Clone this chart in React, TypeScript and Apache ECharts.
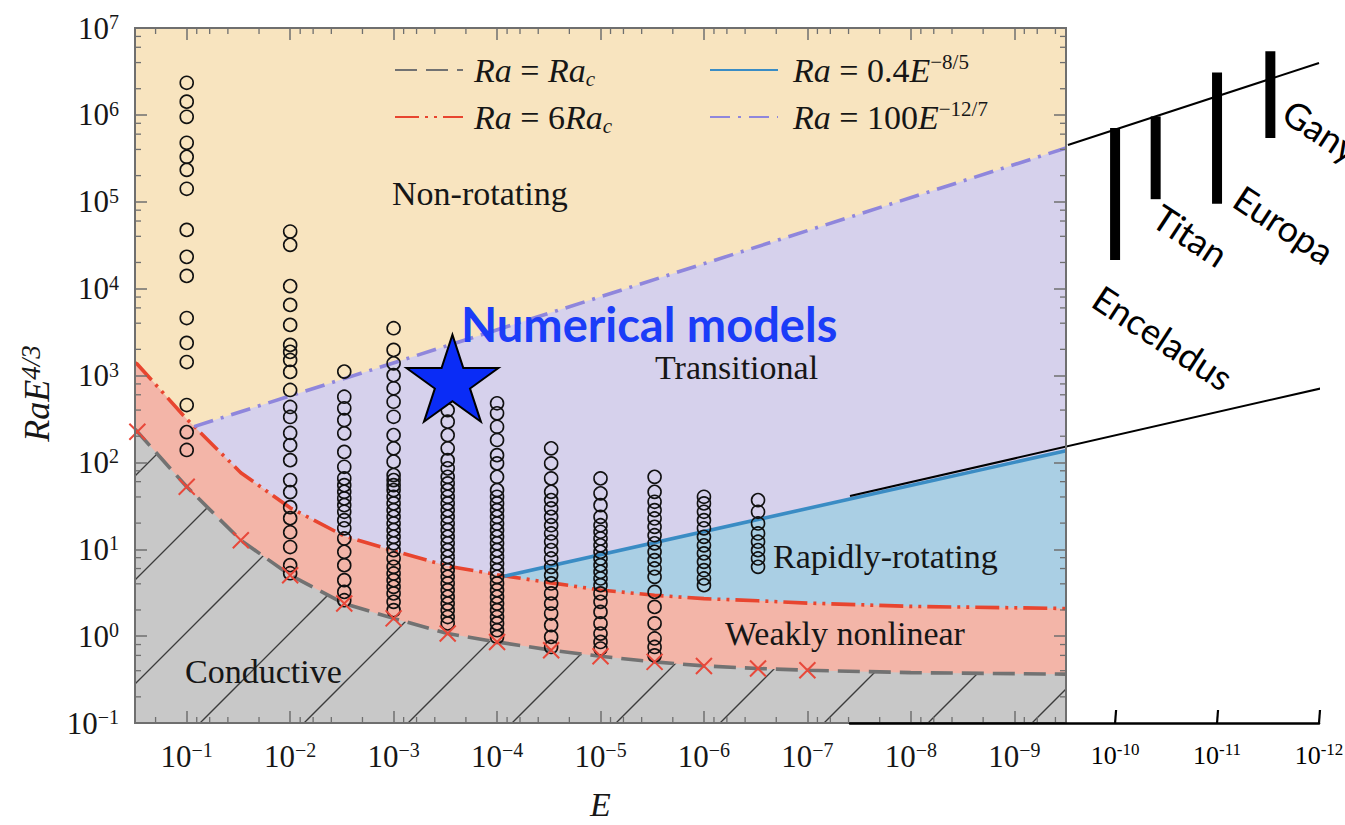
import React, { useEffect, useRef } from 'react';
import * as echarts from 'echarts';

const SERIF = '"Liberation Serif", "Times New Roman", "DejaVu Serif", serif';
const SANS = 'Lato, "Open Sans", "DejaVu Sans", sans-serif';
const INK = '#161616';
const FRAME = '#6f6f6f';

// ---- axis extents (E decreases to the right) ----
const E_LEFT = 0.31623; // 10^-0.5
const E_RIGHT = 3.1623e-10; // 10^-9.5
const EXT_LEFT = 3.98e-8; // 10^-7.4
const EXT_RIGHT = 1e-12;
const Y_MIN = 0.1;
const Y_MAX = 1e7;

// ---- simulations (open circles): Ra E^{4/3} per Ekman number ----
const simE = [1e-1, 1e-2, 3e-3, 1e-3, 3e-4, 1e-4, 3e-5, 1e-5, 3e-6, 1e-6, 3e-7];
const simAtE1 = [2.34e6, 1.42e6, 9.5e5, 4.77e5, 3.29e5, 2.33e5, 1.41e5, 4.74e4, 2.32e4, 1.4e4, 4590, 2370, 1430, 457, 223, 139];
const simAtE2 = [4.54e4, 3.19e4, 1.07e4, 6490, 3820, 2250, 1870, 1510, 1100, 681, 434, 333, 218, 158, 106, 62.5, 45.5, 30.5, 22.8, 15.7, 10.6, 6.56, 5.3];
const simAt3E3 = [1110, 570, 419, 307, 216, 132, 89, 65.4, 54.7, 45.8, 38.5, 32.2, 27, 21.6, 17.4, 13.3, 9.33, 6.56, 4.41, 3.23, 2.59];
const simAtE3 = [3500, 1970, 1380, 1010, 713, 499, 335, 206, 145, 102, 71.4, 62.5, 54.7, 48, 40.2, 33.7, 28.2, 23.6, 19.8, 16.6, 13.9, 11.7, 9.77, 7.83, 6.27, 5.26, 4.41, 3.69, 3.1, 2.48, 1.99];
const simAt3E4 = [400, 294, 206, 145, 106, 85.3, 68.2, 57.3, 48, 40.2, 33.7, 28.2, 23.6, 19.8, 16.6, 13.9, 11.7, 9.77, 8.17, 6.86, 5.74, 4.81, 4.04, 3.38, 2.83, 2.37, 1.99, 1.66, 1.4];
const simAtE4 = [479, 367, 257, 181, 121, 97.3, 68.2, 48, 40.2, 33.7, 28.2, 23.6, 19.8, 16.6, 13.9, 11.7, 9.77, 8.17, 6.86, 5.74, 4.81, 4.04, 3.38, 2.83, 2.37, 1.99, 1.66, 1.4, 1.17, 0.98];
const simAt3E5 = [145, 97.3, 65.4, 45.8, 36.8, 29.5, 23.6, 18.9, 15.2, 12.2, 9.77, 7.83, 6.27, 5.03, 4.04, 3.1, 2.37, 1.82, 1.34, 0.98, 0.75];
const simAtE5 = [65.4, 44, 32.2, 23.6, 18.9, 15.9, 13.3, 11.1, 9.33, 7.83, 6.56, 5.49, 4.61, 3.86, 3.1, 2.48, 1.9, 1.4, 1.07, 0.857, 0.72];
const simAt3E6 = [68.2, 45.8, 35.2, 28.2, 22.6, 18.1, 14.5, 11.7, 9.33, 7.49, 6.01, 4.81, 3.23, 2.17, 1.4, 0.94, 0.75, 0.6];
const simAtE6 = [40.2, 33.7, 27, 21.6, 17.4, 13.9, 11.1, 8.95, 7.16, 5.74, 4.61, 3.86];
const simAt3E7 = [36.8, 27, 19.8, 15.2, 12.2, 9.77, 7.83, 6.27];
const simColumns = [simAtE1, simAtE2, simAt3E3, simAtE3, simAt3E4, simAtE4, simAt3E5, simAtE5, simAt3E6, simAtE6, simAt3E7];

// ---- onset of convection (red crosses) ----
const onsetE = [0.3, 0.1, 0.03, 0.01, 3e-3, 1e-3, 3e-4, 1e-4, 3e-5, 1e-5, 3e-6, 1e-6, 3e-7, 1e-7];
const onsetRaE43 = [225, 52.4, 12.7, 5.03, 2.37, 1.6, 1.07, 0.857, 0.689, 0.586, 0.505, 0.454, 0.424, 0.405];

// ---- regime boundaries ----
const curveE = [E_LEFT, 0.3, 0.1, 0.03, 0.01, 3e-3, 1e-3, 3e-4, 1e-4, 3e-5, 1e-5, 3e-6, 1e-6, 3e-7, 1e-7, 1e-8, E_RIGHT];
const rcRaE43 = [240, 225, 52.4, 12.7, 5.03, 2.37, 1.6, 1.07, 0.857, 0.689, 0.586, 0.505, 0.454, 0.424, 0.405, 0.38, 0.365];
const sixRcRaE43 = [1400, 1350, 315, 76, 30, 14.2, 9.6, 6.4, 5.1, 4.1, 3.4, 2.95, 2.7, 2.55, 2.4, 2.2, 2.08];
const rrE = [8.5e-5, E_RIGHT];
const rrRaE43 = [4.9, 136];
const nrE = [0.085, E_RIGHT];
const nrRaE43 = [258, 4.15e5];

// ---- extension to planetary values ----
const extUpperE = [2.9e-10, 1e-12];
const extUpperRaE43 = [4.5e5, 3.95e6];
const extLowerE = [3.98e-8, 5.6e-13];
const extLowerRaE43 = [41, 820];
const moons = ['Enceladus', 'Titan', 'Europa', 'Ganymede'];
const moonE = [1e-10, 4e-11, 1e-11, 3e-12];
const moonLow = [2.14e4, 1.07e5, 9.5e4, 5.4e5];
const moonHigh = [7.05e5, 9.6e5, 3.08e6, 5.4e6];
const extTickE = [1e-10, 1e-11, 1e-12];

// ---- numerical models marker ----
const starE = 2.7e-4;
const starRaE43 = 930;

const minorMult = [2, 4, 6, 8];

const zip = (xs: number[], ys: number[]) => xs.map((x, i) => [x, ys[i]]);

function powLabel(v: number) {
  const l = Math.log10(v);
  const n = Math.round(l);
  if (Math.abs(l - n) > 0.02) return '';
  return `{b|10}{s|${n < 0 ? '\u2212' + -n : n}}`;
}
function extLabel(v: number) {
  const l = Math.log10(v);
  const n = Math.round(l);
  if (Math.abs(l - n) > 0.02 || n > -10) return '';
  return `{b|10}{s|-${-n}}`;
}

const tickRich = {
  b: { fontFamily: SERIF, fontSize: 31, color: INK, lineHeight: 32 },
  s: { fontFamily: SERIF, fontSize: 20, color: INK, lineHeight: 14, verticalAlign: 'top' },
};
const extRich = {
  b: { fontFamily: SERIF, fontSize: 26, color: '#000', lineHeight: 28 },
  s: { fontFamily: SERIF, fontSize: 17, color: '#000', lineHeight: 12, verticalAlign: 'top' },
};
const legendRich = {
  i: { fontFamily: SERIF, fontStyle: 'italic', fontSize: 34, color: INK, lineHeight: 38 },
  r: { fontFamily: SERIF, fontSize: 34, color: INK, lineHeight: 38 },
  sub: { fontFamily: SERIF, fontStyle: 'italic', fontSize: 21, color: INK, lineHeight: 14, verticalAlign: 'bottom' },
  sup: { fontFamily: SERIF, fontSize: 21, color: INK, lineHeight: 16, verticalAlign: 'top' },
};
const legendText: Record<string, string> = {
  'Ra=Rac': '{i|Ra}{r| = }{i|Ra}{sub|c}',
  'Ra=6Rac': '{i|Ra}{r| = 6}{i|Ra}{sub|c}',
  'Ra=0.4E^-8/5': '{i|Ra}{r| = 0.4}{i|E}{sup|\u22128/5}',
  'Ra=100E^-12/7': '{i|Ra}{r| = 100}{i|E}{sup|\u221212/7}',
};
const legendLayout = [
  { name: 'Ra=Rac', left: 394, top: 51, pad: 6 },
  { name: 'Ra=6Rac', left: 394, top: 98, pad: 6 },
  { name: 'Ra=0.4E^-8/5', left: 709, top: 51, pad: 10 },
  { name: 'Ra=100E^-12/7', left: 709, top: 98, pad: 10 },
];

const regionLabels = [
  { text: 'Non-rotating', x: 392, y: 193 },
  { text: 'Transitional', x: 655, y: 367 },
  { text: 'Rapidly-rotating', x: 773, y: 556 },
  { text: 'Weakly nonlinear', x: 725, y: 633 },
  { text: 'Conductive', x: 185, y: 671 },
];
const moonLabelPos = [
  { x: 1097, y: 294 },
  { x: 1157, y: 213 },
  { x: 1238, y: 194 },
  { x: 1287, y: 108 },
];

function makeHatch() {
  const s = 104;
  const c = document.createElement('canvas');
  c.width = s;
  c.height = s;
  const ctx = c.getContext('2d')!;
  ctx.strokeStyle = '#3c3c3c';
  ctx.lineWidth = 1.3;
  for (const off of [91, 91 + s]) {
    ctx.beginPath();
    ctx.moveTo(-6, off + 6);
    ctx.lineTo(s + 6, off - s - 6);
    ctx.stroke();
  }
  return c;
}

function buildOption() {
  const minorData: number[][] = [];
  for (let n = -10; n <= -1; n++) {
    for (const m of minorMult) {
      const v = m * Math.pow(10, n);
      if (v > E_RIGHT && v < E_LEFT) minorData.push([v, 1, 0]);
    }
  }
  for (let n = -1; n <= 6; n++) {
    for (const m of minorMult) {
      const v = m * Math.pow(10, n);
      if (v < Y_MAX) minorData.push([0.01, v, 1]);
    }
  }
  const circles: number[][] = [];
  simColumns.forEach((col, i) => col.forEach((v) => circles.push([simE[i], v])));

  const areaBase = (name: string, data: number[][], color: any, z: number) => ({
    name,
    type: 'line',
    xAxisIndex: 0,
    yAxisIndex: 0,
    data,
    symbol: 'none',
    showSymbol: false,
    silent: true,
    z,
    lineStyle: { width: 0 },
    areaStyle: { color, origin: 'start', opacity: 1 },
  });
  const lineBase = (name: string, data: number[][], color: string, type: any) => ({
    name,
    type: 'line',
    xAxisIndex: 0,
    yAxisIndex: 0,
    data,
    symbol: 'none',
    showSymbol: false,
    silent: true,
    z: 4,
    lineStyle: { color, width: 3.6, type },
    itemStyle: { color },
  });

  const axisLineStyle = { show: true, onZero: false, lineStyle: { color: FRAME, width: 2 } };
  const majorTick = { show: true, inside: true, length: 12, lineStyle: { color: FRAME, width: 1.5 } };

  return {
    animation: false,
    backgroundColor: '#ffffff',
    grid: [
      { left: 135, top: 28, width: 931, height: 695, show: true, backgroundColor: '#F8E4BF', borderColor: FRAME, borderWidth: 2, outerBoundsMode: 'none' },
      { left: 850, top: 28, width: 469, height: 695, show: false, outerBoundsMode: 'none' },
    ],
    legend: legendLayout.map((l) => ({
      data: [l.name],
      left: l.left,
      top: l.top,
      orient: 'vertical',
      padding: 0,
      itemWidth: 68,
      itemHeight: 14,
      selectedMode: false,
      itemStyle: { opacity: 0 },
      formatter: (n: string) => legendText[n],
      textStyle: { fontFamily: SERIF, fontSize: 34, color: INK, lineHeight: 38, padding: [0, 0, 0, l.pad], rich: legendRich },
    })),
    xAxis: [
      {
        type: 'log', gridIndex: 0, inverse: true, min: E_RIGHT, max: E_LEFT, position: 'bottom', z: 10,
        axisLine: axisLineStyle, axisTick: majorTick, splitLine: { show: false },
        axisLabel: { formatter: powLabel, margin: 17, fontFamily: SERIF, fontSize: 31, color: INK, rich: tickRich },
        name: '{i|E}', nameLocation: 'middle', nameGap: 67,
        nameTextStyle: { fontFamily: SERIF, rich: { i: { fontFamily: SERIF, fontStyle: 'italic', fontSize: 34, color: INK, lineHeight: 28 } } },
      },
      {
        type: 'log', gridIndex: 0, inverse: true, min: E_RIGHT, max: E_LEFT, position: 'top', z: 10,
        axisLine: axisLineStyle, axisTick: majorTick, splitLine: { show: false }, axisLabel: { show: false },
      },
      {
        type: 'log', gridIndex: 1, inverse: true, min: EXT_RIGHT, max: EXT_LEFT, position: 'bottom', z: 11,
        axisLine: { show: true, onZero: false, lineStyle: { color: '#000', width: 2.5 } },
        axisTick: { show: false }, splitLine: { show: false },
        axisLabel: { formatter: extLabel, margin: 18, fontFamily: SERIF, fontSize: 26, color: '#000', rich: extRich },
      },
    ],
    yAxis: [
      {
        type: 'log', gridIndex: 0, min: Y_MIN, max: Y_MAX, position: 'left', z: 10,
        axisLine: axisLineStyle, axisTick: majorTick, splitLine: { show: false },
        axisLabel: { formatter: powLabel, margin: 16, fontFamily: SERIF, fontSize: 31, color: INK, rich: tickRich },
        name: '{i|RaE}{s|4/3}', nameLocation: 'middle', nameRotate: 90, nameGap: 78,
        nameTextStyle: {
          fontFamily: SERIF,
          padding: [0, 36, 0, 0],
          rich: {
            i: { fontFamily: SERIF, fontStyle: 'italic', fontSize: 36, color: INK, lineHeight: 40 },
            s: { fontFamily: SERIF, fontStyle: 'italic', fontSize: 27, color: INK, lineHeight: 18, verticalAlign: 'top' },
          },
        },
      },
      {
        type: 'log', gridIndex: 0, min: Y_MIN, max: Y_MAX, position: 'right', z: 10,
        axisLine: axisLineStyle, axisTick: majorTick, splitLine: { show: false }, axisLabel: { show: false },
      },
      { type: 'log', gridIndex: 1, min: Y_MIN, max: Y_MAX, show: false },
    ],
    series: [
      areaBase('nonRotatingEdge', zip(nrE, nrRaE43), '#D6D1EC', 1),
      areaBase('rapidEdge', zip(rrE, rrRaE43), '#AACFE4', 1),
      areaBase('weakEdge', zip(curveE, sixRcRaE43), '#F3B5A8', 1),
      areaBase('conductiveFill', zip(curveE, rcRaE43), '#C8C8C8', 1),
      areaBase('conductiveHatch', zip(curveE, rcRaE43), { image: makeHatch(), repeat: 'repeat', imageWidth: 104, imageHeight: 104 }, 2),
      lineBase('Ra=Rac', zip(curveE, rcRaE43), '#727272', [22, 9]),
      lineBase('Ra=6Rac', zip(curveE, sixRcRaE43), '#E8452F', [24, 6, 3, 6, 3, 6]),
      lineBase('Ra=0.4E^-8/5', zip(rrE, rrRaE43), '#3A8CC4', 'solid'),
      lineBase('Ra=100E^-12/7', zip(nrE, nrRaE43), '#8F86DC', [20, 8, 3, 8]),
      {
        name: 'simulations', type: 'scatter', xAxisIndex: 0, yAxisIndex: 0, data: circles, z: 6, silent: true,
        symbol: 'circle', symbolSize: 13,
        itemStyle: { color: 'rgba(0,0,0,0)', borderColor: '#111', borderWidth: 1.6, opacity: 1 },
      },
      {
        name: 'onset', type: 'scatter', xAxisIndex: 0, yAxisIndex: 0, data: zip(onsetE, onsetRaE43), z: 7, silent: true,
        symbol: 'path://M0,0L10,10M10,0L0,10', symbolSize: 16,
        itemStyle: { color: 'rgba(0,0,0,0)', borderColor: '#E8483A', borderWidth: 2, opacity: 1 },
      },
      {
        name: 'Numerical models', type: 'scatter', xAxisIndex: 0, yAxisIndex: 0, data: [[starE, starRaE43]], z: 8, silent: true,
        symbol: 'path://M50,0L61.23,34.55L97.55,34.55L68.17,55.9L79.39,90.45L50,69.1L20.61,90.45L31.83,55.9L2.45,34.55L38.77,34.55Z',
        symbolSize: [92, 87],
        itemStyle: { color: '#0A2CF6', borderColor: '#000', borderWidth: 2, opacity: 1 },
      },
      {
        name: 'minorTicks', type: 'custom', xAxisIndex: 0, yAxisIndex: 0, data: minorData, z: 10, silent: true,
        encode: { x: 0, y: 1 },
        renderItem: (params: any, api: any) => {
          const cs = params.coordSys;
          const kind = api.value(2);
          const p = api.coord([api.value(0), api.value(1)]);
          const st = { stroke: FRAME, lineWidth: 1.3 };
          const L = 6;
          if (kind === 0) {
            const b = cs.y + cs.height;
            const t = cs.y;
            return {
              type: 'group',
              children: [
                { type: 'line', shape: { x1: p[0], y1: b, x2: p[0], y2: b - L }, style: st },
                { type: 'line', shape: { x1: p[0], y1: t, x2: p[0], y2: t + L }, style: st },
              ],
            };
          }
          const l = cs.x;
          const r = cs.x + cs.width;
          return {
            type: 'group',
            children: [
              { type: 'line', shape: { x1: l, y1: p[1], x2: l + L, y2: p[1] }, style: st },
              { type: 'line', shape: { x1: r, y1: p[1], x2: r - L, y2: p[1] }, style: st },
            ],
          };
        },
      },
      {
        name: 'extUpper', type: 'line', xAxisIndex: 2, yAxisIndex: 2, data: zip(extUpperE, extUpperRaE43), clip: false,
        symbol: 'none', showSymbol: false, silent: true, z: 9, lineStyle: { color: '#000', width: 2 },
      },
      {
        name: 'extLower', type: 'line', xAxisIndex: 2, yAxisIndex: 2, data: zip(extLowerE, extLowerRaE43), clip: false,
        symbol: 'none', showSymbol: false, silent: true, z: 9, lineStyle: { color: '#000', width: 2 },
      },
      {
        name: 'moons', type: 'custom', xAxisIndex: 2, yAxisIndex: 2, silent: true, z: 9,
        data: moonE.map((e, i) => [e, moonLow[i], moonHigh[i]]),
        encode: { x: 0, y: [1, 2] },
        renderItem: (params: any, api: any) => {
          const top = api.coord([api.value(0), api.value(2)]);
          const bot = api.coord([api.value(0), api.value(1)]);
          return { type: 'rect', shape: { x: top[0] - 5, y: top[1], width: 10, height: bot[1] - top[1] }, style: { fill: '#000' } };
        },
      },
      {
        name: 'extTicks', type: 'custom', xAxisIndex: 2, yAxisIndex: 2, silent: true, z: 11,
        data: extTickE.map((e) => [e, 1]),
        encode: { x: 0, y: 1 },
        renderItem: (params: any, api: any) => {
          const cs = params.coordSys;
          const p = api.coord([api.value(0), api.value(1)]);
          const b = cs.y + cs.height;
          return { type: 'line', shape: { x1: p[0], y1: b, x2: p[0] + 1, y2: b - 13 }, style: { stroke: '#000', lineWidth: 2.2 } };
        },
      },
    ],
    graphic: [
      ...regionLabels.map((r) => ({
        type: 'text', x: r.x, y: r.y, z: 50, silent: true,
        style: { text: r.text, fontFamily: SERIF, fontSize: 34, lineHeight: 26, fill: INK, align: 'left', verticalAlign: 'middle', textAlign: 'left', textVerticalAlign: 'middle' },
      })),
      {
        type: 'text', x: 461, y: 324, z: 50, silent: true,
        style: { text: 'Numerical models', fontFamily: SANS, fontSize: 47, lineHeight: 36, fontWeight: 'bold', fill: '#1B3CF8', align: 'left', verticalAlign: 'middle', textAlign: 'left', textVerticalAlign: 'middle' },
      },
      ...moons.map((m, i) => ({
        type: 'text', x: moonLabelPos[i].x, y: moonLabelPos[i].y, rotation: -0.58, z: 50, silent: true,
        style: { text: m, fontFamily: SANS, fontSize: 36, fill: '#000', align: 'left', verticalAlign: 'middle', textAlign: 'left', textVerticalAlign: 'middle' },
      })),
    ],
  };
}

export default function App() {
  const ref = useRef<HTMLDivElement>(null);
  useEffect(() => {
    if (!ref.current) return;
    const chart = echarts.init(ref.current, undefined, { renderer: 'svg' });
    chart.setOption(buildOption() as any);
    return () => chart.dispose();
  }, []);
  return (
    <div
      ref={ref}
      style={{ position: 'fixed', left: 0, top: 0, width: 1345, height: 825, background: '#fff' }}
    />
  );
}
